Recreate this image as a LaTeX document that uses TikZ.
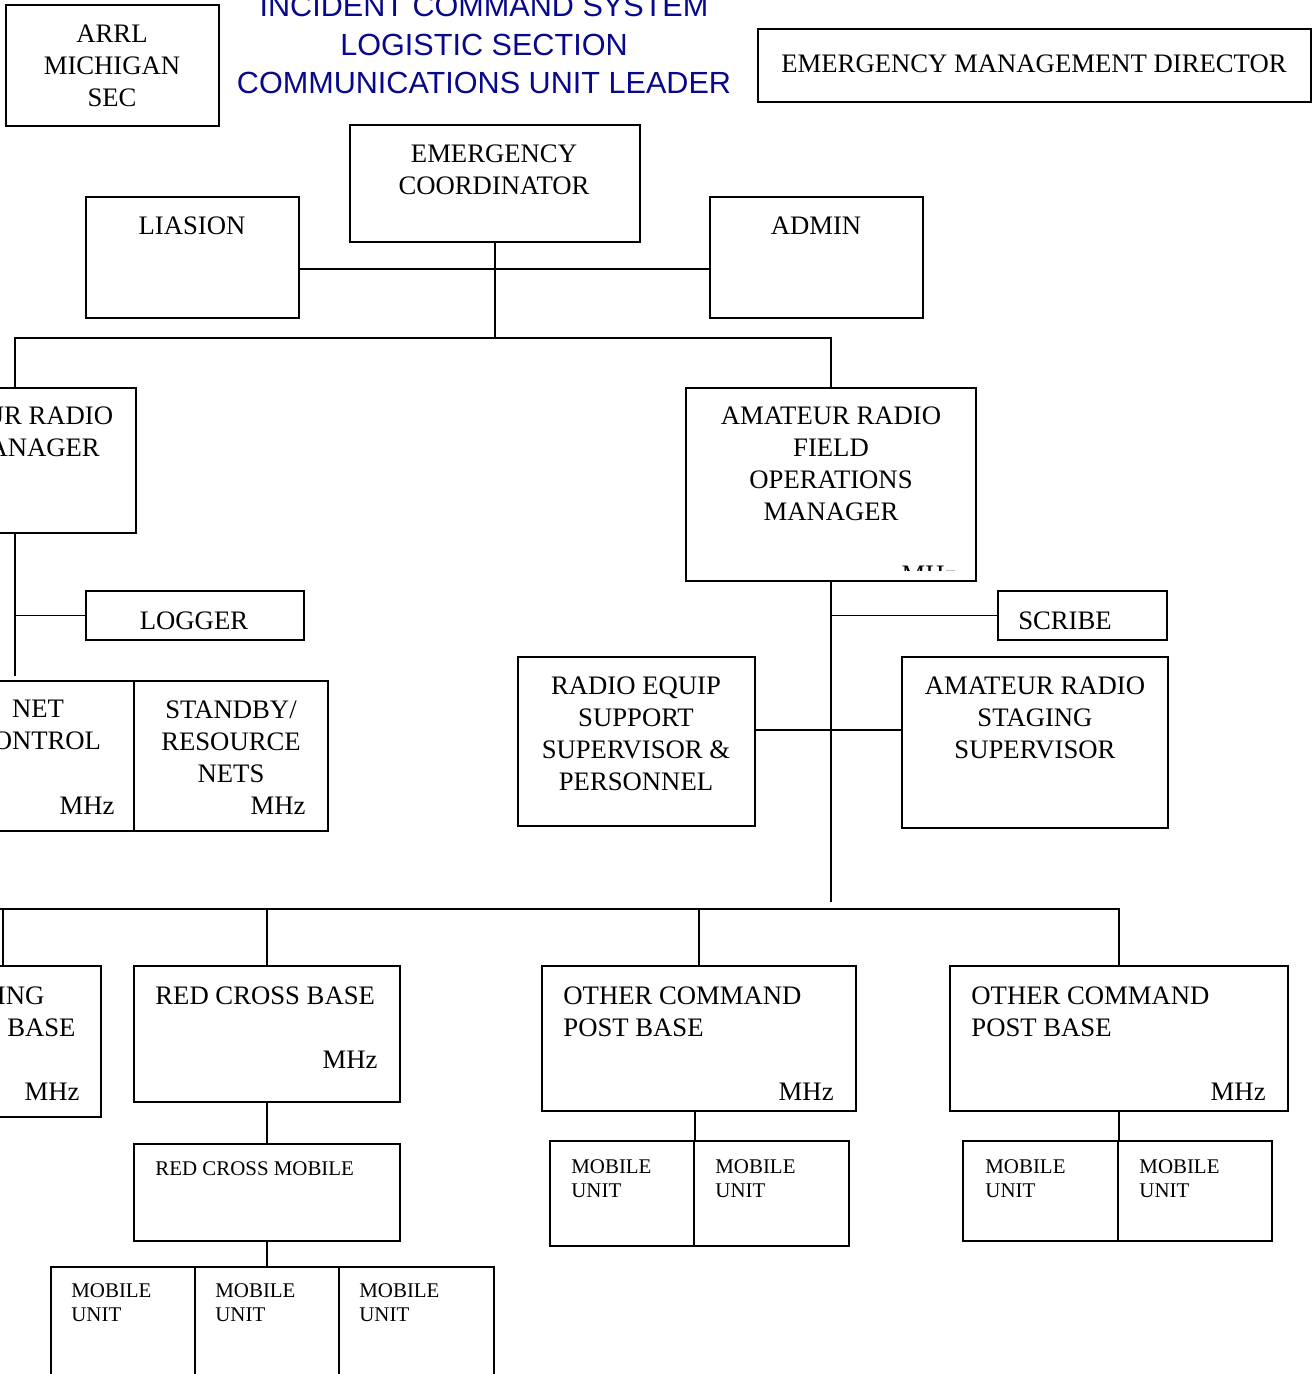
\documentclass[tikz,border=0pt]{standalone}
\usepackage{fontspec}
\setmainfont{Liberation Serif}
\newfontfamily\titlefont{Liberation Sans}
\usetikzlibrary{positioning,fit,calc}
\definecolor{titleblue}{RGB}{8,8,140}
\tikzset{
    unit box/.style={draw,line width=1.25pt,inner sep=0pt},
    link/.style={line width=0.95pt},
    unit text/.style={font=\fontsize{13.35}{16}\selectfont,align=center,anchor=north,inner sep=0pt},
    unit text left/.style={unit text,align=left,anchor=north west},
    small text/.style={font=\fontsize{10.45}{12}\selectfont,align=left,anchor=north west,inner sep=0pt},
    freq/.style={font=\fontsize{13.35}{16}\selectfont,anchor=base east,inner sep=0pt},
    title text/.style={font=\titlefont\fontsize{15.3}{19.2}\selectfont,text=titleblue,align=center,anchor=north,inner sep=0pt},
}

\begin{document}
\begin{tikzpicture}[x=0.5pt,y=-0.5pt]
    \useasboundingbox (0,0) rectangle (1312,1374);
    \clip (0,0) rectangle (1312,1374);

    % header
    \node[unit box,fit={(6,5) (219,126)}] (arrl) {};
    \node[unit text] (arrl-t) at (112,24) {ARRL\\MICHIGAN\\SEC};
    \node[title text] (title) at (484,-5) {INCIDENT COMMAND SYSTEM\\LOGISTIC SECTION\\COMMUNICATIONS UNIT LEADER};
    \node[unit box,fit={(758,29) (1311,102)}] (emd) {};
    \node[unit text] (emd-t) at (1034,54) {EMERGENCY MANAGEMENT DIRECTOR};

    % coordinator level
    \node[unit box,fit={(350,125) (640,242)}] (ec) {};
    \node[unit text] (ec-t) at (494,144) {EMERGENCY\\COORDINATOR};
    \node[unit box,fit={(86,197) (299,318)}] (lia) {};
    \node[unit text] (lia-t) at (192,216) {LIASION};
    \node[unit box,fit={(710,197) (923,318)}] (adm) {};
    \node[unit text] (adm-t) at (816,216) {ADMIN};
    \coordinate (hub) at (495,269);
    \coordinate (bus1) at (495,338);
    \draw[link] (lia.east |- hub) -- (adm.west |- hub);
    \draw[link] (ec.south) -- (bus1);

    % managers
    \node[unit box,fit={(-106,388) (136,533)}] (netmgr) {};
    \node[unit text] (netmgr-t) at (3,406) {AMATEUR RADIO\\NET MANAGER};
    \node[unit box,fit={(686,388) (976,581)}] (fld) {};
    \node[unit text] (fld-t) at (831,406) {AMATEUR RADIO\\FIELD\\OPERATIONS\\MANAGER};
    \begin{scope}
        \clip (686,388) rectangle (976,570);
        \node[freq] (fld-f) at (957,583) {MHz};
    \end{scope}
    \draw[link] (netmgr.north) -- (netmgr.north |- bus1) -- (fld.north |- bus1) -- (fld.north);

    % net side
    \node[unit box,fit={(86,591) (304,640)}] (logr) {};
    \node[unit text] (logr-t) at (194,611) {LOGGER};
    \node[unit box,fit={(-58,681) (134,831)}] (netc) {};
    \node[unit text] (netc-t) at (38,700) {NET\\CONTROL};
    \node[freq] (netc-f) at (115,814) {MHz};
    \node[unit box,fit={(134,681) (328,831)}] (stby) {};
    \node[unit text] (stby-t) at (231,700) {STANDBY/\\RESOURCE\\NETS};
    \node[freq] (stby-f) at (306,814) {MHz};
    \coordinate (netend) at (15,676);
    \draw[link] (netmgr.south) -- (netend);
    \draw[link] (netmgr.south |- logr.west) -- (logr.west);

    % field side
    \node[unit box,fit={(998,591) (1167,640)}] (scr) {};
    \node[unit text] (scr-t) at (1065,611) {SCRIBE};
    \node[unit box,fit={(518,657) (755,826)}] (rdeq) {};
    \node[unit text] (rdeq-t) at (636,676) {RADIO EQUIP\\SUPPORT\\SUPERVISOR \&\\PERSONNEL};
    \node[unit box,fit={(902,657) (1168,828)}] (stg) {};
    \node[unit text] (stg-t) at (1035,676) {AMATEUR RADIO\\STAGING\\SUPERVISOR};
    \coordinate (midlink) at (831,730);
    \coordinate (fldend) at (831,902);
    \draw[link] (fld.south) -- (fldend);
    \draw[link] (fld.south |- scr.west) -- (scr.west);
    \draw[link] (rdeq.east |- midlink) -- (stg.west |- midlink);

    % bases
    \node[unit box,fit={(-95,966) (101,1117)}] (mainb) {};
    \node[unit text left] (mainb-t) at (-71,986) {STAGING\\MAIN BASE};
    \node[freq] (mainb-f) at (80,1100) {MHz};
    \node[unit box,fit={(134,966) (400,1102)}] (rcb) {};
    \node[unit text left] (rcb-t) at (155,986) {RED CROSS BASE};
    \node[freq] (rcb-f) at (378,1068) {MHz};
    \node[unit box,fit={(542,966) (856,1111)}] (ocp1) {};
    \node[unit text left] (ocp1-t) at (563,986) {OTHER COMMAND\\POST BASE};
    \node[freq] (ocp1-f) at (834,1100) {MHz};
    \node[unit box,fit={(950,966) (1288,1111)}] (ocp2) {};
    \node[unit text left] (ocp2-t) at (971,986) {OTHER COMMAND\\POST BASE};
    \node[freq] (ocp2-f) at (1266,1100) {MHz};
    \coordinate (busw) at (-40,909);
    \coordinate (bus2) at (831,909);
    \draw[link] (busw) -- (ocp2.north |- bus2) -- (ocp2.north);
    \foreach \b in {mainb,rcb,ocp1}
        \draw[link] (\b.north |- bus2) -- (\b.north);

    % mobiles
    \node[unit box,fit={(134,1144) (400,1241)}] (rcm) {};
    \node[small text] (rcm-t) at (155,1161) {RED CROSS MOBILE};
    \node[unit box,fit={(51,1267) (195,1400)}] (mu1) {};
    \node[unit box,fit={(195,1267) (339,1400)}] (mu2) {};
    \node[unit box,fit={(339,1267) (494,1400)}] (mu3) {};
    \node[unit box,fit={(550,1141) (694,1246)}] (mu4) {};
    \node[unit box,fit={(694,1141) (849,1246)}] (mu5) {};
    \node[unit box,fit={(963,1141) (1118,1241)}] (mu6) {};
    \node[unit box,fit={(1118,1141) (1272,1241)}] (mu7) {};
    \foreach \m/\x/\y in {mu1/71/1283,mu2/215/1283,mu3/359/1283,mu4/571/1159,mu5/715/1159,mu6/985/1159,mu7/1139/1159}
        \node[small text] (\m-t) at (\x,\y) {MOBILE\\UNIT};
    \draw[link] (rcb.south) -- (rcm.north);
    \draw[link] (rcm.south) -- (rcm.south |- mu2.north);
    \draw[link] (mu4.north east |- ocp1.south) -- (mu4.north east);
    \draw[link] (mu6.north east |- ocp2.south) -- (mu6.north east);
\end{tikzpicture}
\end{document}
